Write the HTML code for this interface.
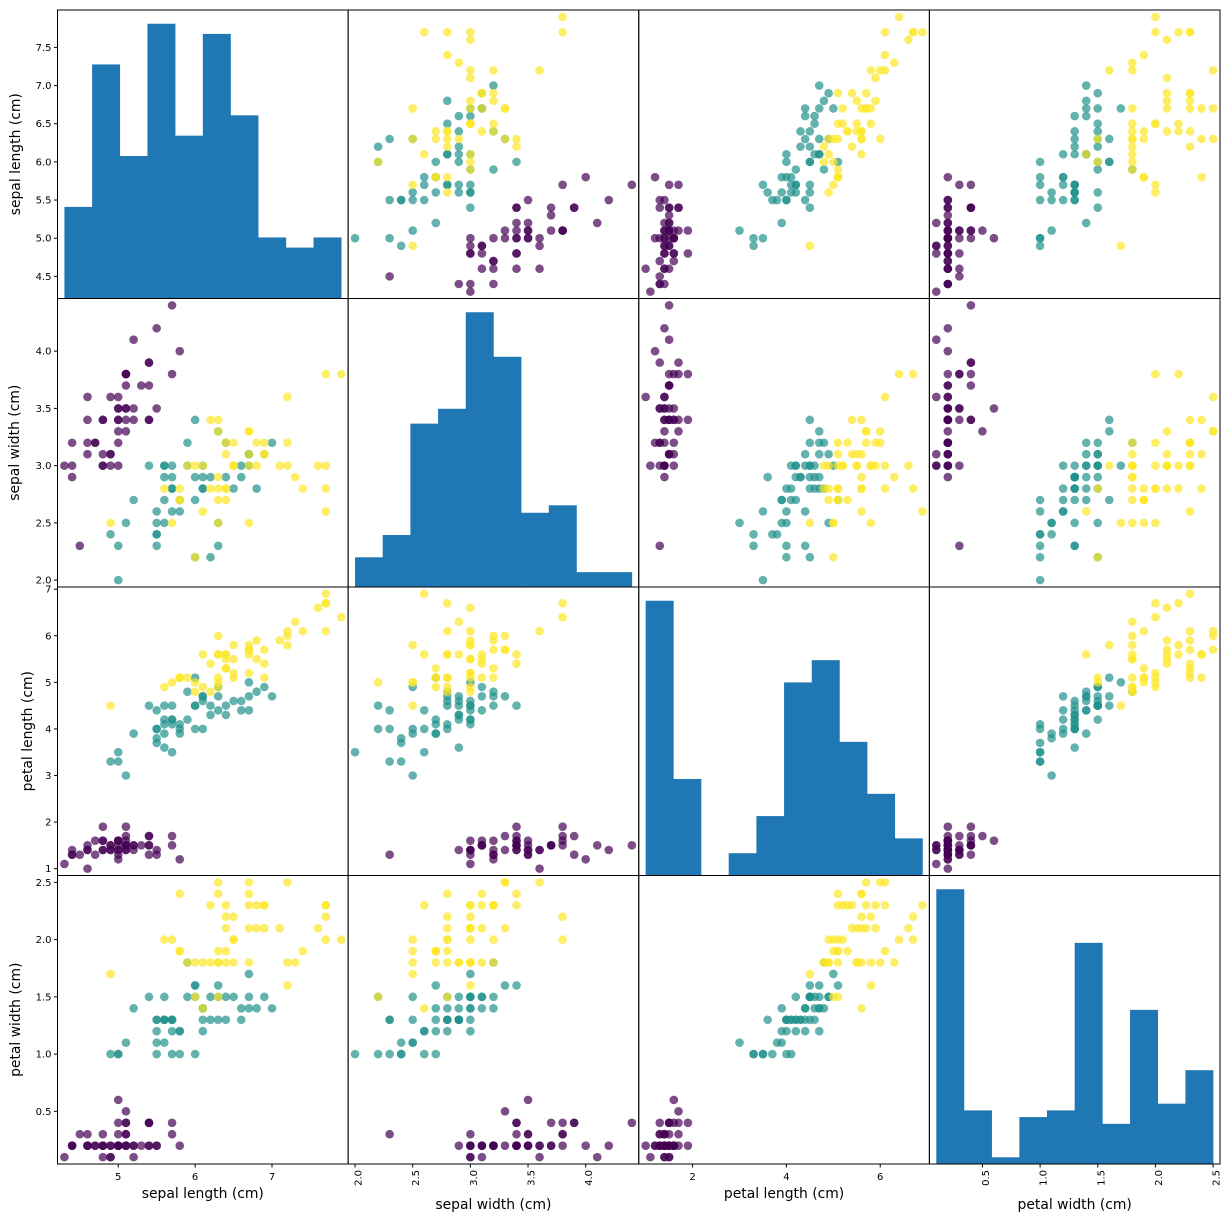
<!DOCTYPE html>
<html><head><meta charset="utf-8"><style>
body{margin:0;background:#fff}
svg text{font-family:"DejaVu Sans","Liberation Sans",sans-serif;fill:#000}
</style></head><body>
<svg id="c" width="1229" height="1222" xmlns="http://www.w3.org/2000/svg"></svg>
<script>
const names = ["sepal length (cm)","sepal width (cm)","petal length (cm)","petal width (cm)"];
const sepalLength = [5.1,4.9,4.7,4.6,5.0,5.4,4.6,5.0,4.4,4.9,5.4,4.8,4.8,4.3,5.8,5.7,5.4,5.1,5.7,5.1,5.4,5.1,4.6,5.1,4.8,5.0,5.0,5.2,5.2,4.7,4.8,5.4,5.2,5.5,4.9,5.0,5.5,4.9,4.4,5.1,5.0,4.5,4.4,5.0,5.1,4.8,5.1,4.6,5.3,5.0,
7.0,6.4,6.9,5.5,6.5,5.7,6.3,4.9,6.6,5.2,5.0,5.9,6.0,6.1,5.6,6.7,5.6,5.8,6.2,5.6,5.9,6.1,6.3,6.1,6.4,6.6,6.8,6.7,6.0,5.7,5.5,5.5,5.8,6.0,5.4,6.0,6.7,6.3,5.6,5.5,5.5,6.1,5.8,5.0,5.6,5.7,5.7,6.2,5.1,5.7,
6.3,5.8,7.1,6.3,6.5,7.6,4.9,7.3,6.7,7.2,6.5,6.4,6.8,5.7,5.8,6.4,6.5,7.7,7.7,6.0,6.9,5.6,7.7,6.3,6.7,7.2,6.2,6.1,6.4,7.2,7.4,7.9,6.4,6.3,6.1,7.7,6.3,6.4,6.0,6.9,6.7,6.9,5.8,6.8,6.7,6.7,6.3,6.5,6.2,5.9];
const sepalWidth = [3.5,3.0,3.2,3.1,3.6,3.9,3.4,3.4,2.9,3.1,3.7,3.4,3.0,3.0,4.0,4.4,3.9,3.5,3.8,3.8,3.4,3.7,3.6,3.3,3.4,3.0,3.4,3.5,3.4,3.2,3.1,3.4,4.1,4.2,3.1,3.2,3.5,3.6,3.0,3.4,3.5,2.3,3.2,3.5,3.8,3.0,3.8,3.2,3.7,3.3,
3.2,3.2,3.1,2.3,2.8,2.8,3.3,2.4,2.9,2.7,2.0,3.0,2.2,2.9,2.9,3.1,3.0,2.7,2.2,2.5,3.2,2.8,2.5,2.8,2.9,3.0,2.8,3.0,2.9,2.6,2.4,2.4,2.7,2.7,3.0,3.4,3.1,2.3,3.0,2.5,2.6,3.0,2.6,2.3,2.7,3.0,2.9,2.9,2.5,2.8,
3.3,2.7,3.0,2.9,3.0,3.0,2.5,2.9,2.5,3.6,3.2,2.7,3.0,2.5,2.8,3.2,3.0,3.8,2.6,2.2,3.2,2.8,2.8,2.7,3.3,3.2,2.8,3.0,2.8,3.0,2.8,3.8,2.8,2.8,2.6,3.0,3.4,3.1,3.0,3.1,3.1,3.1,2.7,3.2,3.3,3.0,2.5,3.0,3.4,3.0];
const petalLength = [1.4,1.4,1.3,1.5,1.4,1.7,1.4,1.5,1.4,1.5,1.5,1.6,1.4,1.1,1.2,1.5,1.3,1.4,1.7,1.5,1.7,1.5,1.0,1.7,1.9,1.6,1.6,1.5,1.4,1.6,1.6,1.5,1.5,1.4,1.5,1.2,1.3,1.4,1.3,1.5,1.3,1.3,1.3,1.6,1.9,1.4,1.6,1.4,1.5,1.4,
4.7,4.5,4.9,4.0,4.6,4.5,4.7,3.3,4.6,3.9,3.5,4.2,4.0,4.7,3.6,4.4,4.5,4.1,4.5,3.9,4.8,4.0,4.9,4.7,4.3,4.4,4.8,5.0,4.5,3.5,3.8,3.7,3.9,5.1,4.5,4.5,4.7,4.4,4.1,4.0,4.4,4.6,4.0,3.3,4.2,4.2,4.2,4.3,3.0,4.1,
6.0,5.1,5.9,5.6,5.8,6.6,4.5,6.3,5.8,6.1,5.1,5.3,5.5,5.0,5.1,5.3,5.5,6.7,6.9,5.0,5.7,4.9,6.7,4.9,5.7,6.0,4.8,4.9,5.6,5.8,6.1,6.4,5.6,5.1,5.6,6.1,5.6,5.5,4.8,5.4,5.6,5.1,5.1,5.9,5.7,5.2,5.0,5.2,5.4,5.1];
const petalWidth = [0.2,0.2,0.2,0.2,0.2,0.4,0.3,0.2,0.2,0.1,0.2,0.2,0.1,0.1,0.2,0.4,0.4,0.3,0.3,0.3,0.2,0.4,0.2,0.5,0.2,0.2,0.4,0.2,0.2,0.2,0.2,0.4,0.1,0.2,0.2,0.2,0.2,0.1,0.2,0.2,0.3,0.3,0.2,0.6,0.4,0.3,0.2,0.2,0.2,0.2,
1.4,1.5,1.5,1.3,1.5,1.3,1.6,1.0,1.3,1.4,1.0,1.5,1.0,1.4,1.3,1.4,1.5,1.0,1.5,1.1,1.8,1.3,1.5,1.2,1.3,1.4,1.4,1.7,1.5,1.0,1.1,1.0,1.2,1.6,1.5,1.6,1.5,1.3,1.3,1.3,1.2,1.4,1.2,1.0,1.3,1.2,1.3,1.3,1.1,1.3,
2.5,1.9,2.1,1.8,2.2,2.1,1.7,1.8,1.8,2.5,2.0,1.9,2.1,2.0,2.4,2.3,1.8,2.2,2.3,1.5,2.3,2.0,2.0,1.8,2.1,1.8,1.8,1.8,2.1,1.6,1.9,2.0,2.2,1.5,1.4,2.3,2.4,1.8,1.8,2.1,2.4,2.3,1.9,2.3,2.5,2.3,1.9,2.0,2.3,1.8];
const classColors = ["#440154","#21918c","#fde725"];
const ticks = [[5,6,7],[2.0,2.5,3.0,3.5,4.0],[2,4,6],[0.5,1.0,1.5,2.0,2.5]];
const yTicks = [[4.5,5,5.5,6,6.5,7,7.5],[2.0,2.5,3.0,3.5,4.0],[1,2,3,4,5,6,7],[0.5,1.0,1.5,2.0,2.5]];
const tickDecimals = [0,1,0,1];
const yTickDecimals = [1,1,0,1];

const cols = [sepalLength,sepalWidth,petalLength,petalWidth];
const svg = document.getElementById('c');
const NS = "http://www.w3.org/2000/svg";
const L=57.5, R=1220, T=10, B=1164;
const W=(R-L)/4, H=(B-T)/4;
function mk(tag, attrs, parent){const e=document.createElementNS(NS,tag);for(const k in attrs)e.setAttribute(k,attrs[k]);(parent||svg).appendChild(e);return e;}
const ranges = cols.map(a=>{const mn=Math.min(...a),mx=Math.max(...a),e=(mx-mn)*0.025;return [mn-e,mx+e,mn,mx];});
function sx(j,v){const r=ranges[j];return L+j*W+(v-r[0])/(r[1]-r[0])*W;}
function sy(i,v){const r=ranges[i];return T+(i+1)*H-(v-r[0])/(r[1]-r[0])*H;}

for(let i=0;i<4;i++){for(let j=0;j<4;j++){
  const g=mk('g',{});
  
  
  const x0=L+j*W, y0=T+i*H;
  if(i===j){
    const a=cols[i], mn=ranges[i][2], mx=ranges[i][3], bw=(mx-mn)/10;
    const cnt=new Array(10).fill(0);
    a.forEach(v=>{let k=Math.floor((v-mn)/bw+1e-9);if(k>9)k=9;cnt[k]++;});
    const cmax=Math.max(...cnt)*1.05;
    cnt.forEach((c,k)=>{
      const xa=sx(j,mn+k*bw), xb=sx(j,mn+(k+1)*bw), h=c/cmax*H;
      const r=mk('rect',{x:xa,y:y0+H-h,width:xb-xa+0.3,height:h,fill:'#1f77b4'},g);
      
      
    });
  } else {
    for(let n=0;n<150;n++){
      const c=mk('circle',{cx:sx(j,cols[j][n]),cy:sy(i,cols[i][n]),r:4.3,fill:classColors[Math.floor(n/50)],'fill-opacity':0.7},g);
      
      
    }
  }
  mk('rect',{x:x0,y:y0,width:W,height:H,fill:'none',stroke:'#000','stroke-width':1},g);
}}
for(let j=0;j<4;j++){
  const rot=(j===1||j===3);
  ticks[j].forEach(v=>{
    const x=sx(j,v);
    mk('line',{x1:x,y1:B,x2:x,y2:B+3.5,stroke:'#000'});
    const t=mk('text',{x:x,y:B+16,'font-size':10,'text-anchor':'middle'});
    if(rot){t.setAttribute('transform','rotate(-90 '+x+' '+(B+6)+')');t.setAttribute('x',x);t.setAttribute('y',B+9.5);t.setAttribute('text-anchor','end');t.setAttribute('dominant-baseline','middle');}
    t.textContent=v.toFixed(tickDecimals[j]);
    
    
  });
  const lab=mk('text',{x:L+j*W+W/2,y:rot?1209:1198,'font-size':13.9,'text-anchor':'middle'});
  lab.textContent=names[j];
  
  
}
for(let i=0;i<4;i++){
  yTicks[i].forEach(v=>{
    const y=sy(i,v);
    mk('line',{x1:L-3.5,y1:y,x2:L,y2:y,stroke:'#000'});
    const t=mk('text',{x:L-6,y:y+3.5,'font-size':10,'text-anchor':'end'});
    t.textContent=v.toFixed(yTickDecimals[i]);
    
    
  });
  const cy=T+i*H+H/2, lx=(i===2)?32:(i===1?19:20);
  const lab=mk('text',{x:lx,y:cy,'font-size':13.9,'text-anchor':'middle',transform:'rotate(-90 '+lx+' '+cy+')'});
  lab.textContent=names[i];
  
  
}
</script>
</body></html>
